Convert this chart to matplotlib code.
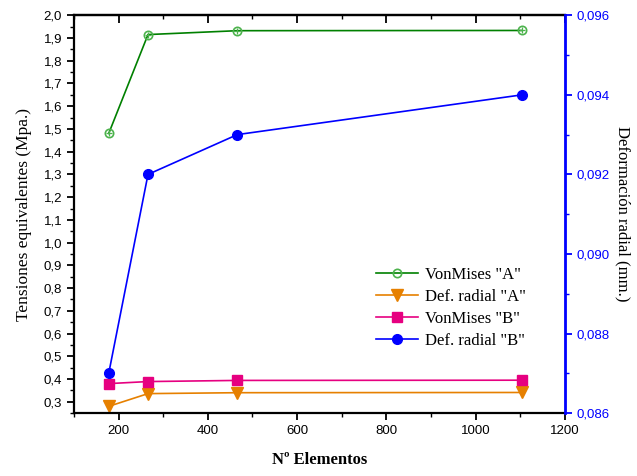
import numpy as np
import matplotlib
matplotlib.use("Agg")
import matplotlib.pyplot as plt
from matplotlib.ticker import MultipleLocator, FuncFormatter

# datos
elementos = [178, 266, 466, 1104]
vm_a = [1.48, 1.915, 1.932, 1.933]          # VonMises "A" (eje izq.)
def_a = [0.28, 0.336, 0.34, 0.341]          # Def. radial "A" (eje izq.)
vm_b = [0.38, 0.389, 0.394, 0.395]          # VonMises "B" (eje izq.)
def_b = [0.0870, 0.0920, 0.0930, 0.0940]    # Def. radial "B" (eje der.)

serif = "Liberation Serif"
sans = "Liberation Sans"

fig = plt.figure(figsize=(6.37, 4.76), dpi=100)
ax = fig.add_axes([0.116, 0.132, 0.771, 0.836])
ax2 = ax.twinx()

l1, = ax.plot(elementos, vm_a, "-", color="#008000", lw=1.2, marker="o",
              ms=6, mfc="none", mec="#4db34d", mew=1.2, label='VonMises "A"')
ax.plot(elementos, vm_a, "none", marker="+", ms=5, mec="#4db34d", mew=0.9)
l2, = ax.plot(elementos, def_a, "-", color="#e68000", lw=1.2, marker="v",
              ms=8, mec="#e68000", label='Def. radial "A"')
l3, = ax.plot(elementos, vm_b, "-", color="#e60080", lw=1.2, marker="s",
              ms=7, mec="#e60080", label='VonMises "B"')
l4, = ax2.plot(elementos, def_b, "-", color="#0000ff", lw=1.2, marker="o",
               ms=7, label='Def. radial "B"')

ax.set_xlim(100, 1200)
ax.set_ylim(0.25, 2.0)
ax2.set_ylim(0.086, 0.096)

ax.xaxis.set_major_locator(MultipleLocator(200))
ax.xaxis.set_minor_locator(MultipleLocator(100))
ax.set_yticks(np.arange(0.3, 2.001, 0.1))
ax.yaxis.set_minor_locator(MultipleLocator(0.05))
ax2.yaxis.set_major_locator(MultipleLocator(0.002))
ax2.yaxis.set_minor_locator(MultipleLocator(0.001))

ax.yaxis.set_major_formatter(FuncFormatter(lambda v, p: f"{v:.1f}".replace(".", ",")))
ax2.yaxis.set_major_formatter(FuncFormatter(lambda v, p: f"{v:.3f}".replace(".", ",")))

ax.tick_params(axis="both", which="major", direction="out", length=5, width=1.3,
               labelsize=9.5)
ax.tick_params(axis="both", which="minor", direction="out", length=3, width=1.0)
ax2.tick_params(axis="y", which="major", direction="out", length=5, width=1.3,
                colors="#0000ff", labelsize=9.5)
ax2.tick_params(axis="y", which="minor", direction="out", length=3, width=1.0,
                colors="#0000ff")

# eje superior con marcas hacia dentro
top = ax.secondary_xaxis("top")
top.xaxis.set_major_locator(MultipleLocator(200))
top.xaxis.set_minor_locator(MultipleLocator(100))
top.tick_params(which="major", direction="in", length=6, width=1.3, labeltop=False)
top.tick_params(which="minor", direction="in", length=3, width=1.0)
top.spines["top"].set_linewidth(1.6)

for lab in ax.get_xticklabels() + ax.get_yticklabels() + ax2.get_yticklabels():
    lab.set_family(sans)

for s in ["left", "bottom", "top"]:
    ax.spines[s].set_linewidth(1.6)
ax2.spines["right"].set_color("#0000ff")
ax2.spines["right"].set_linewidth(2.0)
for s in ["left", "bottom", "top"]:
    ax2.spines[s].set_visible(False)

ax.set_xlabel("Nº Elementos", family=serif, fontsize=12, fontweight="bold", labelpad=11)
ax.set_ylabel("Tensiones equivalentes (Mpa.)", family=serif, fontsize=12.5, labelpad=8)
ax2.set_ylabel("Deformación radial (mm.)", family=serif, fontsize=12,
               rotation=270, labelpad=15)

leg = ax.legend(handles=[l1, l2, l3, l4], loc="upper left",
                bbox_to_anchor=(0.585, 0.405), frameon=False,
                prop={"family": serif, "size": 12}, handlelength=2.5,
                handletextpad=0.4, labelspacing=0.35)

fig.savefig("out.png", dpi=100)
